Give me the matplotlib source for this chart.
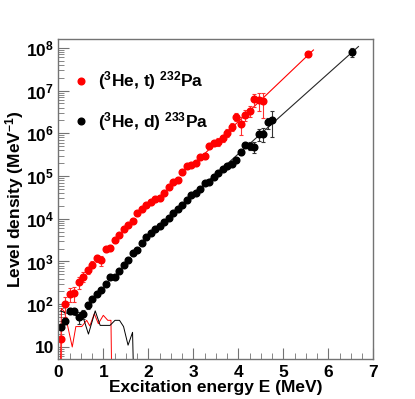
import numpy as np
import matplotlib
matplotlib.use('Agg')
import matplotlib.pyplot as plt
from matplotlib.lines import Line2D
from matplotlib.ticker import FixedLocator, LogLocator, MultipleLocator, FuncFormatter

plt.rcParams['font.family'] = ['Liberation Sans', 'DejaVu Sans']
plt.rcParams['font.weight'] = 'bold'
plt.rcParams['mathtext.fontset'] = 'custom'
plt.rcParams['mathtext.rm'] = 'Liberation Sans:bold'
plt.rcParams['mathtext.bf'] = 'Liberation Sans:bold'
plt.rcParams['mathtext.it'] = 'Liberation Sans:bold'
plt.rcParams['mathtext.default'] = 'rm'

######## Data ####################################

E_bins = np.round(np.arange(0.05, 4.6, 0.1), 2)

# (3He, t) 232Pa
rho_232 = [15, 100, 178, 185, 330, 445, 625, 850, 1200, 1070,
           1950, 2100, 3150, 4150, 5700, 7100, 9000, 13300, 16500, 21000,
           24500, 28500, 30000, 41000, 56000, 71000, 81000, 124000, 170000, 180000,
           198000, 277000, 295000, 515000, 585000, 640000, 780000, 1.04e6, 1.44e6, 2.47e6,
           1.65e6, 2.7e6, 3.4e6, 6.3e6, 6.1e6, 5.6e6]
relerr_232 = [0.9, 0.5, 0.35, 0.4, 0.3, 0.25, 0.2, 0.18, 0.2, 0.25,
              0.15, 0.15, 0.15, 0.12, 0.12, 0.12, 0.12, 0.12, 0.12, 0.12,
              0.12, 0.12, 0.15, 0.12, 0.12, 0.12, 0.15, 0.15, 0.12, 0.12,
              0.15, 0.15, 0.15, 0.15, 0.15, 0.2, 0.2, 0.2, 0.2, 0.2,
              0.45, 0.3, 0.3, 0.35, 0.45, 0.6]
E_232_high = [5.55]
rho_232_high = [7.1e7]
relerr_232_high = [0.15]

# (3He, d) 233Pa
E_233 = np.round(np.arange(0.05, 4.8, 0.1), 2)
rho_233 = [29, 40, 69, 69, 50, 60, 95, 130, 178, 220,
           305, 425, 440, 605, 820, 1110, 1600, 1900, 2750, 3650,
           4550, 5750, 6750, 8500, 10200, 13300, 16500, 21000, 27500, 35500,
           41000, 50000, 68000, 74000, 96000, 115000, 144000, 175000, 192000, 238000,
           357000, 535000, 515000, 490000, 950000, 960000, 1.8e6, 2.05e6]
relerr_233 = [0.15, 0.15, 0.15, 0.15, 0.3, 0.25, 0.2, 0.1, 0.05, 0.05,
              0.05, 0.05, 0.05, 0.05, 0.05, 0.05, 0.05, 0.05, 0.05, 0.05,
              0.05, 0.05, 0.05, 0.05, 0.05, 0.05, 0.05, 0.05, 0.05, 0.05,
              0.05, 0.05, 0.05, 0.05, 0.05, 0.05, 0.05, 0.05, 0.08, 0.1,
              0.12, 0.1, 0.2, 0.3, 0.3, 0.35, 0.3, 0.6]
E_233_high = [6.53]
rho_233_high = [8.1e7]
relerr_233_high = [0.25]

# constant-temperature fits (straight in log scale)
fit_E_232 = [3.1, 5.67]
fit_rho_232 = [10**5.37, 10**7.95]
fit_E_233 = [3.1, 6.67]
fit_rho_233 = [10**4.67, 10**8.03]

# discrete-level counts at low energy
low_E_232 = [0.04, 0.07, 0.14, 0.31, 0.39, 0.52, 0.63, 0.70, 0.80, 0.89, 1.00, 1.10, 1.17, 1.19]
low_rho_232 = [1, 80, 66, 10, 30, 30, 42, 31, 60, 35, 55, 42, 42, 1]
low_E_233 = [0.05, 0.15, 0.25, 0.35, 0.45, 0.55, 0.67, 0.82, 0.93, 1.05, 1.15, 1.26, 1.36, 1.45, 1.55, 1.65, 1.68]
low_rho_233 = [70, 63, 60, 56, 52, 50, 20, 70, 32, 32, 32, 42, 42, 30, 11, 22, 1]

labels = [r'($^{3}$He, t) $^{232}$Pa', r'($^{3}$He, d) $^{233}$Pa']

######## Plot ##############

fig = plt.figure(figsize=(4.15, 3.99), dpi=100)
ax = fig.add_axes([0.1405, 0.100, 0.759, 0.802])

ax.plot(low_E_232, low_rho_232, color='red', lw=0.7)
ax.plot(low_E_233, low_rho_233, color='black', lw=0.7)
ax.plot(fit_E_232, fit_rho_232, color='red', lw=0.8)
ax.plot(fit_E_233, fit_rho_233, color='0.15', lw=0.8)

for E, rho, rel, col, ecol in [(E_bins, rho_232, relerr_232, 'red', '#ff3030'),
                               (E_232_high, rho_232_high, relerr_232_high, 'red', '#ff3030'),
                               (E_233, rho_233, relerr_233, 'black', '0.2'),
                               (E_233_high, rho_233_high, relerr_233_high, 'black', '0.2')]:
    rho = np.array(rho)
    ax.errorbar(E, rho, yerr=rho * np.array(rel), fmt='o', color=col, ecolor=ecol,
                ms=4.8, elinewidth=0.8, capsize=1.5, capthick=0.8, mec=col)

ax.set_yscale('log')
ax.set_xlim(0, 7)
ax.set_ylim(5.2, 1.6e8)

ax.xaxis.set_major_locator(MultipleLocator(1))
ax.xaxis.set_minor_locator(MultipleLocator(0.25))
ax.yaxis.set_major_locator(FixedLocator([10**k for k in range(1, 9)]))
ax.yaxis.set_minor_locator(LogLocator(base=10, subs=np.arange(2, 10), numticks=20))

def ylab(v, pos):
    k = int(round(np.log10(v)))
    return '10' if k == 1 else r'$10^{%d}$' % k

ax.yaxis.set_major_formatter(FuncFormatter(ylab))
ax.yaxis.set_minor_formatter(FuncFormatter(lambda v, p: ''))

ax.tick_params(which='both', direction='in', color='0.45', top=False, right=False,
               labelsize=12.5)
ax.tick_params(which='major', length=8, width=0.8)
ax.tick_params(which='minor', length=4, width=0.6)
ax.tick_params(axis='x', pad=4)
ax.tick_params(axis='y', pad=3)
for s in ax.spines.values():
    s.set_color('0.45')
    s.set_linewidth(1.0)

ax.set_xlabel('Excitation energy E (MeV)', fontsize=12.5, fontweight='bold', labelpad=0)
ax.set_ylabel(r'Level density (MeV$^{-1}$)', fontsize=12.5, fontweight='bold', labelpad=0)

handles = [Line2D([], [], marker='o', color='red', ls='none', ms=4.8),
           Line2D([], [], marker='o', color='black', ls='none', ms=4.8)]
ax.legend(handles, labels, loc='upper left', bbox_to_anchor=(0.044, 0.905), frameon=False,
          fontsize=12.5, labelspacing=1.0, handletextpad=0.48, handlelength=1.0,
          borderpad=0, borderaxespad=0)

fig.savefig('out.png', dpi=100)
